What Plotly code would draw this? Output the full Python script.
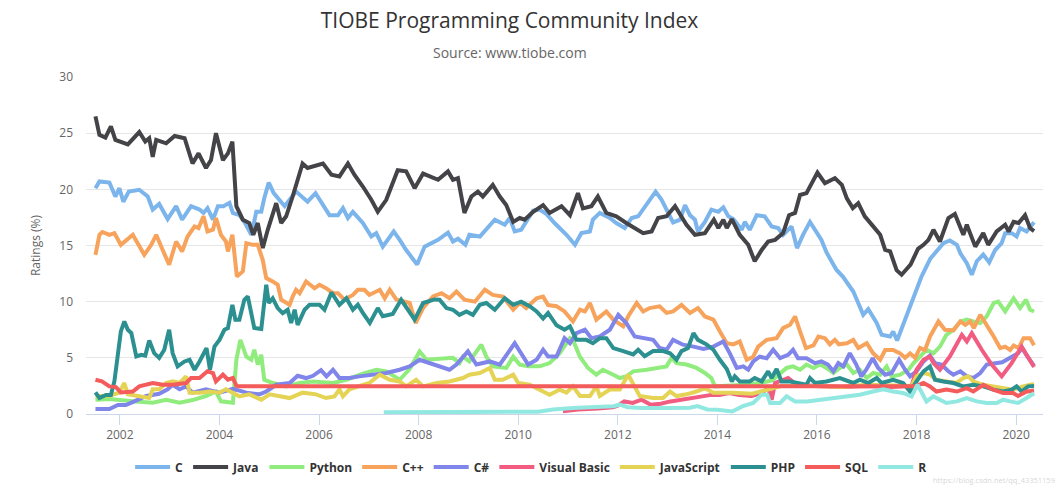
import plotly.graph_objects as go

# ---------------- data (decimal year, rating %) ----------------
C_X = [2001.51, 2001.59, 2001.79, 2001.91, 2001.99, 2002.07, 2002.18, 2002.39, 2002.56, 2002.66, 2002.79, 2002.96,
       2003.13, 2003.25, 2003.43, 2003.60, 2003.68, 2003.76, 2003.87, 2003.97, 2004.08, 2004.20, 2004.27, 2004.40,
       2004.50, 2004.64, 2004.74, 2004.84, 2004.90, 2004.99, 2005.09, 2005.21, 2005.31, 2005.41, 2005.54, 2005.77,
       2005.93, 2006.21, 2006.38, 2006.48, 2006.58, 2006.68, 2006.88, 2007.05, 2007.15, 2007.28, 2007.50, 2007.62,
       2007.75, 2007.97, 2008.12, 2008.39, 2008.59, 2008.69, 2008.79, 2008.94, 2009.02, 2009.23, 2009.53, 2009.73,
       2009.83, 2009.93, 2010.06, 2010.30, 2010.43, 2010.57, 2010.73, 2010.97, 2011.14, 2011.27, 2011.44, 2011.50,
       2011.64, 2011.84, 2011.97, 2012.14, 2012.28, 2012.41, 2012.58, 2012.76, 2012.88, 2013.01, 2013.11, 2013.25,
       2013.35, 2013.45, 2013.55, 2013.61, 2013.75, 2013.88, 2014.02, 2014.12, 2014.22, 2014.32, 2014.49, 2014.55,
       2014.65, 2014.79, 2014.95, 2015.09, 2015.22, 2015.32, 2015.49, 2015.60, 2015.72, 2015.86, 2015.96, 2016.09,
       2016.19, 2016.39, 2016.52, 2016.73, 2016.93, 2017.03, 2017.20, 2017.30, 2017.47, 2017.53, 2017.61, 2017.73,
       2017.94, 2018.10, 2018.28, 2018.40, 2018.54, 2018.67, 2018.81, 2018.88, 2019.01, 2019.11, 2019.21, 2019.34,
       2019.46, 2019.58, 2019.71, 2019.78, 2019.91, 2020.01, 2020.08, 2020.21, 2020.36]
C_Y = [20.1, 20.7, 20.6, 19.36, 20.1, 18.9, 19.8, 19.96, 19.36, 18.2, 18.7, 17.35,
       18.5, 17.3, 18.5, 18.2, 17.9, 18.33, 17.3, 18.5, 18.5, 18.8, 17.9, 17.7,
       17.1, 15.95, 18.0, 18.0, 19.2, 20.6, 19.66, 19.07, 18.5, 19.07, 19.8, 18.9,
       19.66, 17.7, 17.7, 18.33, 17.45, 18.0, 17.0, 15.8, 16.1, 14.9, 16.25, 15.5,
       14.6, 13.3, 14.9, 15.5, 16.15, 15.36, 15.6, 15.06, 15.95, 15.8, 17.3, 16.85,
       17.45, 16.25, 16.4, 18.1, 18.2, 17.8, 17.0, 15.95, 15.06, 16.1, 16.25, 17.3,
       17.9, 17.45, 17.0, 16.55, 17.45, 17.6, 18.6, 19.8, 19.07, 17.9, 17.05, 17.3,
       18.6, 17.7, 17.3, 16.25, 17.1, 18.2, 18.0, 18.4, 17.6, 17.35, 16.4, 17.1,
       16.4, 17.7, 17.6, 16.7, 16.55, 15.95, 16.7, 14.77, 15.95, 17.1, 16.4, 15.5,
       14.4, 12.84, 12.24, 10.9, 8.83, 9.34, 8.1, 7.05, 6.9, 7.35, 6.55, 7.94,
       10.17, 12.24, 13.85, 14.47, 15.2, 15.45, 15.06, 14.3, 13.43, 12.4, 13.6, 14.2,
       13.5, 14.6, 15.2, 16.1, 16.1, 15.8, 16.55, 16.25, 17.07]

JAVA_X = [2001.51, 2001.59, 2001.71, 2001.82, 2001.91, 2002.16, 2002.39, 2002.51, 2002.59, 2002.66, 2002.73, 2002.93,
          2003.10, 2003.30, 2003.46, 2003.58, 2003.73, 2003.83, 2003.93, 2004.07, 2004.17, 2004.26, 2004.34, 2004.47,
          2004.60, 2004.68, 2004.77, 2004.87, 2004.97, 2005.14, 2005.24, 2005.34, 2005.47, 2005.67, 2005.77, 2006.08,
          2006.25, 2006.41, 2006.58, 2006.71, 2006.88, 2007.05, 2007.18, 2007.35, 2007.58, 2007.75, 2007.92, 2008.09,
          2008.39, 2008.59, 2008.69, 2008.79, 2008.92, 2009.06, 2009.19, 2009.29, 2009.49, 2009.63, 2009.76, 2009.90,
          2010.03, 2010.13, 2010.30, 2010.50, 2010.63, 2010.87, 2011.04, 2011.20, 2011.30, 2011.47, 2011.60, 2011.77,
          2011.97, 2012.17, 2012.51, 2012.68, 2012.81, 2012.98, 2013.15, 2013.28, 2013.38, 2013.55, 2013.75, 2013.93,
          2014.02, 2014.12, 2014.19, 2014.29, 2014.45, 2014.62, 2014.75, 2014.89, 2015.02, 2015.16, 2015.32, 2015.44,
          2015.56, 2015.66, 2015.79, 2016.01, 2016.16, 2016.36, 2016.50, 2016.60, 2016.72, 2016.83, 2016.96, 2017.13,
          2017.27, 2017.37, 2017.47, 2017.60, 2017.70, 2017.78, 2017.88, 2018.03, 2018.14, 2018.24, 2018.34, 2018.47,
          2018.64, 2018.77, 2018.94, 2019.01, 2019.18, 2019.34, 2019.44, 2019.61, 2019.78, 2019.85, 2019.95, 2020.05,
          2020.18, 2020.28, 2020.36]
JAVA_Y = [26.5, 24.85, 24.6, 25.6, 24.4, 24.0, 25.1, 24.25, 24.55, 22.9, 24.4, 24.1,
          24.75, 24.55, 22.3, 23.2, 21.9, 22.6, 25.0, 22.6, 23.2, 24.25, 18.5, 17.3,
          17.0, 15.95, 17.0, 14.77, 16.4, 18.77, 17.0, 17.6, 19.36, 22.3, 21.9, 22.3,
          21.3, 21.15, 22.3, 21.3, 20.25, 19.07, 18.0, 19.07, 21.7, 21.6, 20.1, 21.4,
          20.85, 21.6, 20.85, 21.0, 17.9, 19.36, 19.8, 19.36, 20.4, 19.36, 18.6, 17.1,
          17.45, 17.3, 18.0, 18.6, 17.9, 18.5, 17.7, 19.66, 18.3, 18.5, 19.36, 17.9,
          17.6, 17.0, 16.1, 16.25, 17.45, 17.6, 18.5, 17.6, 16.85, 15.95, 16.1, 17.3,
          16.55, 17.3, 16.55, 17.35, 15.95, 15.06, 13.6, 14.6, 15.36, 15.5, 16.1, 17.7,
          17.9, 19.5, 19.66, 21.5, 20.55, 21.0, 20.4, 19.2, 18.33, 18.77, 17.6, 16.7,
          15.95, 14.6, 14.47, 12.8, 12.4, 12.8, 13.3, 14.7, 15.06, 15.5, 16.4, 15.36,
          17.45, 17.8, 15.95, 16.85, 14.9, 16.1, 15.06, 16.25, 16.85, 16.25, 17.1, 17.0,
          17.7, 16.55, 16.28]

PY_X = [2001.51, 2001.79, 2002.26, 2002.66, 2002.93, 2003.20, 2003.46, 2003.73, 2003.93, 2004.03, 2004.27, 2004.34,
        2004.42, 2004.54, 2004.64, 2004.70, 2004.77, 2004.84, 2004.90, 2005.07, 2005.34, 2005.61, 2005.88, 2006.28,
        2006.55, 2006.88, 2007.15, 2007.35, 2007.62, 2007.82, 2008.02, 2008.16, 2008.69, 2008.82, 2008.89, 2009.02,
        2009.26, 2009.36, 2009.49, 2009.76, 2009.90, 2010.03, 2010.20, 2010.43, 2010.63, 2010.83, 2011.04, 2011.10,
        2011.24, 2011.40, 2011.57, 2011.70, 2011.91, 2012.04, 2012.17, 2012.31, 2012.58, 2012.84, 2012.98, 2013.08,
        2013.18, 2013.38, 2013.58, 2013.75, 2013.88, 2013.95, 2014.30, 2014.60, 2014.90, 2015.10, 2015.39, 2015.52,
        2015.66, 2015.79, 2015.93, 2016.06, 2016.19, 2016.33, 2016.46, 2016.60, 2016.73, 2016.86, 2017.00, 2017.13,
        2017.27, 2017.40, 2017.50, 2017.67, 2017.84, 2017.94, 2018.07, 2018.20, 2018.34, 2018.47, 2018.60, 2018.74,
        2018.88, 2019.01, 2019.14, 2019.28, 2019.41, 2019.55, 2019.64, 2019.78, 2019.95, 2020.08, 2020.20, 2020.28,
        2020.36]
PY_Y = [1.27, 1.33, 1.13, 1.0, 1.27, 1.0, 1.24, 1.6, 2.0, 1.13, 1.0, 4.83,
        6.6, 5.1, 4.83, 5.72, 4.4, 5.27, 3.05, 2.76, 2.46, 2.76, 2.9, 2.76,
        3.05, 3.6, 3.94, 3.8, 3.05, 4.0, 5.57, 4.83, 5.0, 4.53, 5.1, 4.68,
        6.17, 5.1, 4.24, 4.1, 5.1, 4.4, 4.24, 4.24, 4.53, 5.4, 6.75, 6.6,
        5.1, 4.1, 3.5, 3.94, 3.5, 3.2, 3.35, 3.8, 3.94, 4.1, 4.24, 5.0,
        4.53, 4.4, 4.1, 3.65, 3.2, 2.46, 2.5, 2.6, 2.8, 3.0, 4.1, 4.24,
        3.94, 4.4, 4.1, 4.4, 4.1, 3.65, 4.1, 4.4, 3.65, 3.94, 3.2, 3.65,
        3.5, 4.24, 3.35, 3.5, 3.94, 4.53, 5.1, 5.72, 5.4, 6.0, 7.05, 7.5,
        8.24, 8.4, 8.24, 8.1, 8.7, 9.88, 10.0, 9.13, 10.3, 9.43, 10.17, 9.28,
        9.12]

CPP_X = [2001.51, 2001.59, 2001.65, 2001.79, 2001.89, 2002.02, 2002.26, 2002.49, 2002.63, 2002.73, 2002.86, 2002.99,
         2003.13, 2003.25, 2003.36, 2003.50, 2003.58, 2003.68, 2003.76, 2003.87, 2003.93, 2004.03, 2004.13, 2004.17,
         2004.26, 2004.35, 2004.47, 2004.54, 2004.67, 2004.77, 2004.87, 2004.94, 2005.07, 2005.17, 2005.24, 2005.41,
         2005.47, 2005.54, 2005.61, 2005.74, 2005.91, 2006.01, 2006.14, 2006.28, 2006.38, 2006.51, 2006.68, 2006.78,
         2006.91, 2007.01, 2007.22, 2007.32, 2007.42, 2007.55, 2007.82, 2007.94, 2008.09, 2008.29, 2008.46, 2008.62,
         2008.76, 2008.92, 2009.13, 2009.33, 2009.49, 2009.69, 2009.90, 2010.03, 2010.16, 2010.37, 2010.50, 2010.60,
         2010.77, 2010.93, 2011.10, 2011.24, 2011.34, 2011.44, 2011.57, 2011.77, 2011.91, 2012.11, 2012.21, 2012.38,
         2012.51, 2012.64, 2012.84, 2012.98, 2013.11, 2013.28, 2013.45, 2013.61, 2013.75, 2013.92, 2014.05, 2014.19,
         2014.32, 2014.45, 2014.59, 2014.72, 2014.82, 2014.99, 2015.19, 2015.32, 2015.46, 2015.56, 2015.66, 2015.78,
         2015.93, 2016.03, 2016.16, 2016.26, 2016.36, 2016.44, 2016.60, 2016.73, 2016.83, 2017.00, 2017.13, 2017.27,
         2017.37, 2017.53, 2017.67, 2017.77, 2017.87, 2017.97, 2018.07, 2018.17, 2018.27, 2018.44, 2018.57, 2018.74,
         2018.88, 2018.98, 2019.08, 2019.15, 2019.28, 2019.41, 2019.55, 2019.68, 2019.78, 2019.88, 2019.95, 2020.05,
         2020.15, 2020.28, 2020.36]
CPP_Y = [14.17, 15.95, 16.2, 15.95, 16.1, 15.06, 15.95, 14.17, 15.06, 15.95, 14.6, 13.3,
         15.36, 14.47, 15.8, 16.7, 16.55, 17.6, 16.25, 16.4, 17.45, 15.95, 15.36, 14.47,
         15.95, 12.24, 12.7, 15.2, 15.06, 15.06, 13.7, 12.1, 11.8, 11.5, 10.17, 9.72,
         10.46, 11.06, 10.76, 11.8, 11.2, 11.5, 11.2, 10.76, 10.76, 10.17, 10.6, 11.06,
         11.06, 10.6, 11.06, 10.3, 11.06, 10.2, 9.88, 8.1, 9.43, 10.46, 10.76, 10.3,
         10.9, 10.17, 10.0, 11.06, 10.6, 10.46, 9.28, 9.9, 9.43, 10.3, 10.46, 9.7,
         9.6, 9.13, 8.24, 9.28, 9.13, 9.88, 8.4, 9.13, 8.4, 7.8, 8.7, 9.88,
         9.13, 9.43, 9.58, 9.0, 9.13, 9.72, 9.0, 9.43, 8.68, 8.4, 7.35, 6.3,
         6.2, 6.46, 4.83, 5.1, 6.0, 6.6, 6.75, 7.65, 7.94, 8.68, 7.35, 5.87,
         6.1, 6.9, 6.75, 6.2, 6.6, 6.2, 6.3, 6.6, 5.87, 6.3, 5.4, 4.83,
         5.7, 5.7, 5.4, 5.0, 5.4, 5.0, 5.87, 5.7, 6.9, 8.24, 7.5, 7.45,
         8.24, 7.94, 8.24, 7.65, 8.83, 7.94, 6.9, 5.87, 6.0, 5.7, 6.1, 5.87,
         6.75, 6.75, 6.13]

CS_X = [2001.51, 2001.79, 2001.96, 2002.12, 2002.29, 2002.53, 2002.79, 2002.96, 2003.06, 2003.20, 2003.33, 2003.46,
        2003.73, 2004.00, 2004.27, 2004.54, 2004.80, 2004.94, 2005.14, 2005.41, 2005.57, 2005.74, 2005.88, 2006.04,
        2006.15, 2006.28, 2006.41, 2006.61, 2006.81, 2007.08, 2007.35, 2007.62, 2007.82, 2008.02, 2008.29, 2008.62,
        2008.76, 2008.99, 2009.16, 2009.43, 2009.63, 2009.93, 2010.20, 2010.37, 2010.50, 2010.60, 2010.77, 2010.93,
        2011.04, 2011.17, 2011.34, 2011.47, 2011.64, 2011.84, 2012.01, 2012.17, 2012.34, 2012.51, 2012.71, 2012.84,
        2012.98, 2013.11, 2013.31, 2013.52, 2013.72, 2013.92, 2014.12, 2014.25, 2014.39, 2014.52, 2014.62, 2014.72,
        2014.85, 2014.99, 2015.12, 2015.26, 2015.42, 2015.52, 2015.62, 2015.79, 2015.96, 2016.09, 2016.22, 2016.33,
        2016.43, 2016.53, 2016.66, 2016.79, 2016.89, 2016.99, 2017.12, 2017.23, 2017.37, 2017.50, 2017.65, 2017.77,
        2017.87, 2018.00, 2018.14, 2018.27, 2018.37, 2018.50, 2018.64, 2018.74, 2018.88, 2019.01, 2019.14, 2019.28,
        2019.41, 2019.55, 2019.72, 2019.88, 2020.04, 2020.12, 2020.20, 2020.36]
CS_Y = [0.44, 0.44, 0.8, 0.8, 1.13, 1.6, 1.8, 2.2, 2.6, 2.2, 2.46, 1.9,
        2.2, 1.9, 2.25, 1.9, 1.75, 2.0, 2.6, 2.76, 3.4, 3.2, 3.4, 3.9,
        3.35, 3.94, 3.2, 3.2, 3.35, 3.5, 3.65, 3.94, 4.24, 4.83, 4.4, 3.94,
        4.4, 5.57, 4.4, 4.68, 4.4, 6.3, 4.4, 4.83, 5.72, 5.12, 5.12, 6.75,
        6.3, 7.2, 7.5, 6.75, 6.9, 7.5, 8.83, 8.1, 6.9, 6.75, 6.6, 5.87,
        5.72, 6.6, 6.17, 6.0, 5.8, 6.0, 6.46, 5.4, 4.1, 4.24, 3.94, 4.68,
        5.1, 4.97, 5.72, 4.97, 5.27, 5.72, 4.97, 4.97, 4.53, 4.68, 4.4, 3.8,
        4.53, 4.24, 5.42, 4.4, 3.35, 3.94, 4.97, 4.1, 3.5, 3.65, 4.83, 3.94,
        3.35, 3.8, 4.68, 5.2, 4.53, 4.4, 3.8, 3.5, 3.8, 3.35, 3.2, 3.65,
        4.4, 4.5, 4.6, 5.0, 5.4, 5.9, 5.3, 4.29]

VB_X = [2010.90, 2011.20, 2011.60, 2011.90, 2012.00, 2012.13, 2012.30, 2012.48, 2012.66, 2012.86, 2013.06, 2013.26,
        2013.46, 2013.68, 2013.88, 2014.04, 2014.24, 2014.44, 2014.69, 2014.89, 2015.02, 2015.09, 2015.16, 2015.42,
        2015.60, 2016.00, 2016.50, 2017.00, 2017.50, 2017.90, 2018.00, 2018.14, 2018.27, 2018.34, 2018.47, 2018.67,
        2018.91, 2019.01, 2019.11, 2019.31, 2019.51, 2019.71, 2019.91, 2020.11, 2020.24, 2020.36]
VB_Y = [0.25, 0.4, 0.5, 0.6, 0.74, 1.12, 0.98, 1.27, 0.83, 0.92, 1.12, 1.27,
        1.42, 1.57, 1.7, 1.7, 1.87, 1.7, 1.6, 1.87, 2.3, 1.27, 2.76, 3.2,
        2.6, 2.5, 2.4, 2.5, 2.4, 2.5, 3.94, 4.83, 5.12, 4.53, 3.94, 5.12,
        7.05, 6.46, 7.2, 5.72, 4.4, 3.35, 4.53, 6.0, 4.97, 4.18]

JS_X = [2001.51, 2001.79, 2001.99, 2002.09, 2002.16, 2002.39, 2002.59, 2002.66, 2002.79, 2002.93, 2003.06, 2003.20,
        2003.33, 2003.40, 2003.60, 2003.80, 2004.00, 2004.13, 2004.40, 2004.60, 2004.84, 2005.01, 2005.27, 2005.41,
        2005.67, 2005.94, 2006.14, 2006.31, 2006.41, 2006.48, 2006.61, 2006.81, 2007.01, 2007.22, 2007.42, 2007.62,
        2007.75, 2007.95, 2008.09, 2008.36, 2008.62, 2008.89, 2009.02, 2009.23, 2009.43, 2009.53, 2009.69, 2009.90,
        2010.00, 2010.23, 2010.43, 2010.63, 2010.83, 2010.97, 2011.10, 2011.24, 2011.44, 2011.57, 2011.64, 2011.84,
        2012.04, 2012.21, 2012.44, 2012.71, 2012.91, 2013.05, 2013.18, 2013.38, 2013.58, 2013.75, 2013.92, 2014.30,
        2014.70, 2014.99, 2015.30, 2016.00, 2016.50, 2017.00, 2017.50, 2017.90, 2018.00, 2018.14, 2018.27, 2018.40,
        2018.60, 2018.80, 2018.94, 2019.04, 2019.14, 2019.34, 2019.54, 2019.74, 2019.94, 2020.14, 2020.36]
JS_Y = [1.57, 1.63, 1.9, 2.76, 1.75, 1.57, 1.42, 2.2, 2.2, 2.76, 2.9, 2.76,
        3.35, 1.9, 1.9, 2.0, 1.9, 2.2, 1.57, 1.75, 1.27, 1.75, 1.57, 1.42,
        1.9, 1.75, 1.42, 1.57, 2.2, 1.57, 2.2, 2.46, 2.76, 3.5, 3.05, 2.9,
        2.46, 3.05, 2.46, 2.76, 2.9, 3.2, 3.5, 3.65, 4.1, 3.05, 3.05, 3.5,
        2.76, 2.6, 2.17, 1.72, 2.17, 1.9, 2.46, 1.6, 1.6, 2.46, 1.6, 2.17,
        2.17, 3.5, 1.6, 1.42, 1.42, 2.0, 1.6, 1.75, 2.0, 2.3, 1.9, 1.9,
        1.8, 2.17, 2.5, 2.5, 2.4, 2.6, 2.5, 2.5, 3.35, 3.65, 3.5, 3.05,
        2.9, 2.76, 3.2, 3.35, 2.9, 2.6, 2.46, 2.3, 2.17, 2.46, 2.68]

PHP_X = [2001.51, 2001.59, 2001.72, 2001.82, 2001.89, 2001.96, 2002.02, 2002.09, 2002.16, 2002.23, 2002.33, 2002.43,
         2002.51, 2002.59, 2002.69, 2002.79, 2002.89, 2002.99, 2003.06, 2003.16, 2003.30, 2003.40, 2003.50, 2003.60,
         2003.74, 2003.81, 2003.90, 2004.00, 2004.10, 2004.17, 2004.26, 2004.32, 2004.40, 2004.50, 2004.57, 2004.70,
         2004.84, 2004.94, 2004.99, 2005.07, 2005.17, 2005.27, 2005.37, 2005.44, 2005.51, 2005.57, 2005.71, 2005.81,
         2006.01, 2006.11, 2006.25, 2006.41, 2006.55, 2006.68, 2006.78, 2006.88, 2007.02, 2007.18, 2007.28, 2007.48,
         2007.65, 2007.92, 2008.09, 2008.32, 2008.42, 2008.56, 2008.69, 2008.82, 2008.96, 2009.09, 2009.23, 2009.36,
         2009.53, 2009.73, 2009.90, 2010.06, 2010.23, 2010.37, 2010.50, 2010.60, 2010.77, 2010.93, 2011.04, 2011.17,
         2011.37, 2011.50, 2011.64, 2011.77, 2011.91, 2012.11, 2012.31, 2012.41, 2012.54, 2012.71, 2012.91, 2013.05,
         2013.18, 2013.28, 2013.41, 2013.52, 2013.61, 2013.78, 2013.92, 2014.05, 2014.19, 2014.29, 2014.35, 2014.45,
         2014.65, 2014.75, 2014.89, 2015.02, 2015.09, 2015.19, 2015.29, 2015.46, 2015.62, 2015.79, 2015.86, 2015.96,
         2016.19, 2016.46, 2016.73, 2016.86, 2017.03, 2017.20, 2017.30, 2017.53, 2017.73, 2017.87, 2018.00, 2018.14,
         2018.27, 2018.37, 2018.54, 2018.74, 2018.94, 2019.14, 2019.34, 2019.54, 2019.74, 2019.91, 2020.01, 2020.11,
         2020.24, 2020.36]
PHP_Y = [1.92, 1.42, 1.7, 1.7, 2.9, 5.72, 7.35, 8.24, 7.5, 7.2, 5.12, 5.27,
         5.2, 6.55, 5.42, 5.0, 5.7, 7.5, 5.42, 4.24, 4.68, 4.83, 3.94, 4.68,
         5.87, 3.94, 6.0, 6.6, 7.5, 7.65, 9.72, 8.4, 8.4, 10.17, 10.46, 7.65,
         7.56, 11.5, 9.88, 10.3, 9.43, 8.98, 9.28, 8.1, 9.28, 7.94, 9.28, 9.72,
         9.72, 9.28, 10.82, 9.72, 10.3, 9.28, 9.72, 9.0, 8.1, 9.43, 8.7, 8.9,
         10.17, 8.4, 9.88, 10.2, 10.17, 9.43, 9.28, 8.83, 9.13, 8.83, 9.72, 9.88,
         9.28, 10.3, 9.72, 10.0, 9.6, 9.13, 8.5, 9.0, 7.9, 7.5, 7.8, 6.6,
         6.6, 6.3, 6.75, 6.75, 5.87, 5.6, 5.3, 5.72, 5.15, 5.6, 5.6, 5.4,
         4.83, 5.6, 5.87, 7.2, 6.6, 6.2, 5.72, 4.83, 4.0, 2.9, 3.35, 2.9,
         2.9, 3.2, 2.9, 3.8, 3.2, 4.0, 2.9, 2.9, 2.76, 2.6, 3.2, 2.76,
         2.9, 3.2, 2.76, 3.05, 2.76, 3.2, 2.76, 3.05, 2.76, 2.0, 2.9, 3.8,
         4.24, 3.05, 2.9, 2.76, 2.46, 2.6, 2.46, 2.17, 2.0, 2.17, 2.46, 2.0,
         2.46, 2.49]

SQL_X = [2001.51, 2001.64, 2001.79, 2001.92, 2002.02, 2002.26, 2002.39, 2002.66, 2002.86, 2003.06, 2003.33, 2003.43,
         2003.60, 2003.76, 2003.87, 2003.93, 2004.07, 2004.17, 2004.27, 2004.34, 2004.40, 2017.97, 2018.14, 2018.27,
         2018.40, 2018.60, 2018.81, 2019.01, 2019.14, 2019.34, 2019.54, 2019.74, 2019.94, 2020.04, 2020.20, 2020.36]
SQL_Y = [3.05, 2.9, 2.46, 2.4, 1.92, 2.0, 2.46, 2.76, 2.6, 2.6, 2.76, 3.2,
         3.2, 3.8, 3.65, 2.9, 3.5, 3.05, 3.2, 2.52, 2.46, 2.46, 2.76, 2.46,
         2.0, 2.17, 2.0, 2.3, 2.0, 2.6, 2.17, 1.87, 1.87, 1.6, 1.98, 2.09]

R_X = [2007.30, 2008.50, 2009.50, 2010.40, 2010.70, 2011.10, 2011.91, 2012.04, 2012.20, 2012.50, 2013.00, 2013.45,
       2013.60, 2013.80, 2014.00, 2014.30, 2014.50, 2014.72, 2014.89, 2015.00, 2015.06, 2015.26, 2015.39, 2015.56,
       2015.80, 2016.06, 2016.33, 2016.60, 2016.86, 2017.13, 2017.33, 2017.53, 2017.73, 2017.90, 2018.02, 2018.20,
       2018.34, 2018.47, 2018.60, 2018.81, 2019.01, 2019.21, 2019.41, 2019.61, 2019.74, 2019.88, 2020.04, 2020.21,
       2020.36]
R_Y = [0.15, 0.15, 0.15, 0.2, 0.4, 0.54, 0.7, 0.83, 0.6, 0.54, 0.54, 0.55,
       0.7, 0.4, 0.38, 0.23, 0.68, 0.98, 1.72, 1.72, 0.98, 0.98, 1.57, 1.12,
       1.12, 1.27, 1.42, 1.57, 1.72, 2.0, 2.2, 2.0, 1.87, 1.57, 2.6, 1.12,
       1.57, 1.27, 0.98, 1.12, 1.42, 1.12, 0.98, 0.98, 1.27, 1.12, 0.98, 1.42,
       1.85]

NAMES = ["C", "Java", "Python", "C++", "C#", "Visual Basic", "JavaScript", "PHP", "SQL", "R"]
COLORS = ["#7cb5ec", "#434348", "#90ed7d", "#f7a35c", "#8085e9",
          "#f15c80", "#e4d354", "#2b908f", "#f45b5b", "#91e8e1"]
SERIES = [(C_X, C_Y), (JAVA_X, JAVA_Y), (PY_X, PY_Y), (CPP_X, CPP_Y), (CS_X, CS_Y),
          (VB_X, VB_Y), (JS_X, JS_Y), (PHP_X, PHP_Y), (SQL_X, SQL_Y), (R_X, R_Y)]
X_TICKS = [2002, 2004, 2006, 2008, 2010, 2012, 2014, 2016, 2018, 2020]
Y_TICKS = [0, 5, 10, 15, 20, 25, 30]

FONT = "Open Sans, DejaVu Sans, sans-serif"

fig = go.Figure()
for name, color, (xs, ys) in zip(NAMES, COLORS, SERIES):
    fig.add_trace(go.Scatter(x=xs, y=ys, name=name, mode="lines",
                             line=dict(color=color, width=4, shape="linear")))

fig.update_layout(
    width=1058, height=486,
    paper_bgcolor="white", plot_bgcolor="white",
    margin=dict(l=86, r=15, t=77, b=72, autoexpand=False),
    font=dict(family=FONT, color="#666666", size=12),
    title=dict(text="TIOBE Programming Community Index", x=0.4816, xanchor="center",
               y=0.958, yanchor="middle", yref="container", xref="container",
               font=dict(family=FONT, size=21, color="#333333")),
    showlegend=True,
    legend=dict(orientation="h", xref="container", x=0.502, xanchor="center",
                yref="container", y=1 - 467 / 486, yanchor="middle",
                font=dict(family=FONT, size=12, color="#333333", weight="bold"),
                itemwidth=35, bgcolor="rgba(0,0,0,0)"),
    annotations=[
        dict(text="Source: www.tiobe.com", x=(509.5 - 86) / 957, xref="paper",
             y=(414 - 52) / 337, yref="paper",
             showarrow=False, xanchor="center", yanchor="middle",
             font=dict(family=FONT, size=14, color="#666666")),
        dict(text="https://blog.csdn.net/qq_43351159", x=(1056 - 86) / 957, xref="paper",
             y=-(479.5 - 414) / 337, yref="paper", showarrow=False, xanchor="right", yanchor="middle",
             borderpad=0,
             font=dict(family=FONT, size=7.5, color="rgba(185,185,185,0.6)")),
    ],
)

fig.update_xaxes(
    range=[2001.32, 2020.54], tickvals=X_TICKS, ticktext=[str(t) for t in X_TICKS],
    showgrid=False, zeroline=False, showline=True, linecolor="#ccd6eb", linewidth=1,
    ticks="outside", ticklen=10, tickcolor="#ccd6eb", tickwidth=1,
    tickfont=dict(family=FONT, size=12, color="#666666"),
)
fig.update_yaxes(
    range=[0, 30], tickvals=Y_TICKS, showgrid=True, gridcolor="#e6e6e6", gridwidth=1,
    zeroline=False, showline=False, ticks="", ticklabelstandoff=12,
    tickfont=dict(family=FONT, size=12, color="#666666"),
    title=dict(text="Ratings (%)", standoff=16, font=dict(family=FONT, size=12, color="#666666")),
)

fig.write_html("out.html")
